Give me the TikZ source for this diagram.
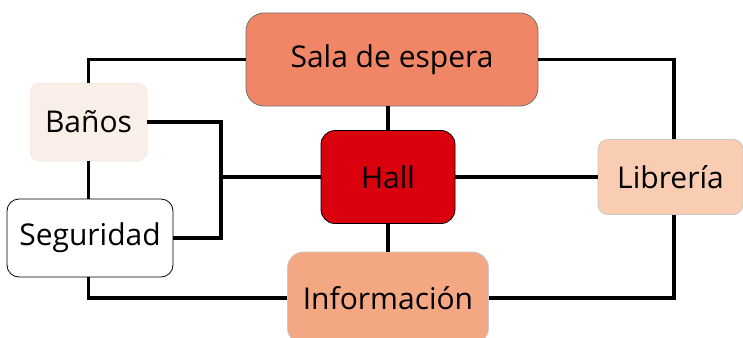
\documentclass[tikz,border=0pt]{standalone}
\usepackage{xcolor}
\usepackage{fontspec}
\setmainfont{Open Sans}
\usepackage{tikz}
\definecolor{salaCoral}{HTML}{F18666}
\definecolor{infoSalmon}{HTML}{F4A783}
\definecolor{libPeach}{HTML}{F8CDB2}
\definecolor{banosCream}{HTML}{F9EFE8}
\definecolor{hallRed}{HTML}{DB000E}
\definecolor{edgeGray}{HTML}{707070}
\definecolor{edgeLight}{HTML}{C8C8C8}

\begin{document}
\begin{tikzpicture}[x=1pt,y=-1pt]

		\tikzset{
            room/.style={
                rectangle,
                inner sep=0pt,
                font=\fontsize{30}{36}\selectfont,
                text=black
            },
            link/.style={
                line width=3.4pt,
                draw=black
            }
        }

        \useasboundingbox (0,0) rectangle (743,337);

        % rooms
        \node[room, fill=salaCoral, draw=edgeGray, line width=0.8pt, rounded corners=18pt,
              minimum width=292pt, minimum height=93pt] (sala) at (392,59.5) {Sala de espera};
        \node[room, fill=banosCream, draw=banosCream!90!gray, line width=0.5pt, rounded corners=10pt,
              minimum width=117pt, minimum height=78pt] (banos) at (88.5,122) {Baños};
        \node[room, fill=hallRed, draw=black, line width=0.8pt, rounded corners=14pt,
              minimum width=134pt, minimum height=93pt] (hall) at (388,177) {Hall};
        \node[room, fill=white, draw=black, line width=0.8pt, rounded corners=12pt,
              minimum width=166pt, minimum height=78pt] (seguridad) at (90,238) {Seguridad};
        \node[room, fill=infoSalmon, draw=edgeLight, line width=0.8pt, rounded corners=16pt,
              minimum width=201pt, minimum height=92pt] (info) at (388,298) {Información};
        \node[room, fill=libPeach, draw=edgeLight, line width=0.8pt, rounded corners=10pt,
              minimum width=145pt, minimum height=75pt] (libreria) at (670.5,177) {Librería};

        % corridors
        \coordinate (junction) at (221,177);
        \draw[link] (sala.west) -| (banos.north);
        \draw[link] (banos.south) -- (seguridad.north -| banos.south);
        \draw[link] (banos.east) -| (junction) |- (seguridad.east);
        \draw[link] (junction) -- (hall.west);
        \draw[link] (seguridad.south -| banos.south) |- (info.west);
        \draw[link] (sala.south -| hall.north) -- (hall.north);
        \draw[link] (hall.south) -- (info.north);
        \draw[link] (sala.east) -| (674,0 |- libreria.north);
        \draw[link] (hall.east) -- (libreria.west);
        \draw[link] (674,0 |- libreria.south) |- (info.east);

        \end{tikzpicture}
\end{document}
